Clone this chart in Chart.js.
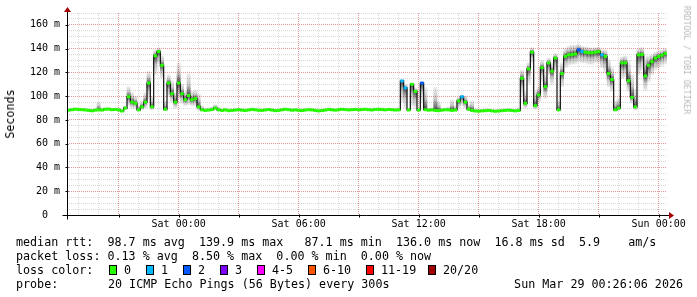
<!DOCTYPE html>
<html><head><meta charset="utf-8">
<script src="https://cdn.jsdelivr.net/npm/chart.js@4/dist/chart.umd.min.js"></script>
<style>
html,body{margin:0;padding:0;background:#fff;}
#wrap{position:relative;width:697px;height:297px;overflow:hidden;background:#fff;}
canvas{position:absolute;left:0;top:0;}
.t{position:absolute;font-family:"DejaVu Sans Mono",monospace;font-size:11.7px;line-height:14px;color:#000;white-space:pre;}
.box{position:absolute;width:8px;height:10px;box-sizing:border-box;border:1px solid #000;}
</style></head><body>
<div id="wrap">
<canvas id="c" width="697" height="297"></canvas>
</div>
<script>
// ---- data (5-minute RRD, shown here at 10-minute steps), minutes relative to Sat 00:00 ----
const startMin = -330;
const stepMin = 10;
const median = [
 88.2, 88.6, 89.0, 88.8, 88.6, 88.4, 88.0, 87.7, 88.2, 88.5,
 88.3, 89.0, 89.1, 88.6, 88.8, 88.4, 87.5, 90.0, 99.6, 95.0,
 94.0, 88.5, 91.0, 95.0, 111.0, 91.0, 134.0, 137.5, 126.0, 89.0,
 111.0, 102.0, 95.0, 111.0, 102.0, 97.0, 100.5, 97.0, 98.0, 91.0,
 88.5, 88.0, 88.3, 88.7, 90.0, 88.5, 88.0, 88.4, 87.8, 88.0,
 88.3, 88.6, 88.2, 87.9, 88.4, 88.8, 88.5, 88.1, 88.0, 88.4,
 88.7, 88.3, 87.8, 88.0, 88.5, 88.9, 88.6, 88.2, 88.4, 88.1,
 87.9, 88.3, 88.6, 88.4, 88.0, 87.6, 87.9, 88.3, 88.8, 88.5,
 88.2, 88.6, 88.9, 88.7, 88.4, 88.6, 88.8, 88.5, 88.7, 88.9,
 88.6, 88.4, 88.8, 88.9, 88.7, 88.5, 88.8, 88.6, 88.3, 88.5,
 112.8, 107.0, 88.4, 110.0, 104.0, 88.3, 111.0, 88.6, 88.2, 88.5,
 88.0, 87.8, 88.2, 88.6, 88.4, 88.0, 88.3, 96.0, 99.5, 95.0,
 89.0, 88.0, 87.5, 87.4, 87.6, 87.8, 88.0, 87.6, 87.3, 87.5,
 87.8, 88.0, 88.2, 87.9, 87.6, 88.0, 115.0, 94.0, 123.0, 137.0,
 92.0, 101.0, 124.0, 108.0, 128.0, 121.0, 132.0, 88.5, 119.0, 133.5,
 134.7, 135.0, 135.5, 139.0, 137.5, 137.0, 136.5, 136.5, 137.0, 137.5,
 134.7, 133.5, 119.0, 114.0, 88.5, 90.0, 128.0, 128.0, 113.0, 99.0,
 91.0, 134.7, 135.0, 117.0, 126.0, 129.0, 132.0, 133.5, 134.5, 136.0
];
const smokeHi = [
 89.5, 90, 90.5, 90, 90, 89.8, 89.5, 89, 89.5, 95,
 90, 90.5, 90.5, 90, 90.3, 90, 89, 92, 108, 103,
 100, 92, 96, 103, 121, 100, 139, 140.5, 134, 96,
 118, 113, 103, 128, 110, 104, 119, 104, 105, 102,
 92, 90, 90, 91, 93, 90.5, 89.5, 90, 89.5, 89.5,
 89.8, 90, 89.6, 89.3, 89.8, 90.3, 90, 89.5, 89.4, 89.8,
 90.2, 89.7, 89.2, 89.4, 90, 90.4, 90, 89.6, 89.8, 89.5,
 89.3, 89.7, 90, 89.8, 89.4, 89, 89.3, 89.7, 90.3, 90,
 89.6, 90, 90.4, 90.2, 89.8, 90, 90.3, 90, 90.2, 90.4,
 90, 89.8, 90.3, 90.4, 90.2, 90, 90.3, 90, 89.8, 90,
 114, 110, 90, 111, 107, 90, 112, 107, 90, 90,
 107.5, 95, 90, 90, 91, 97, 92, 99, 101, 100,
 93, 96, 89.5, 89, 89, 89.3, 89.5, 89, 88.8, 89,
 89.3, 89.5, 89.7, 89.4, 89, 90, 122, 104, 128, 141,
 104, 108, 130, 118, 132, 128, 136, 96, 128, 140,
 142, 143, 143, 143.5, 142, 141.5, 141, 140.5, 141, 141,
 139, 139, 131, 124, 96, 98, 133, 134, 130, 118,
 106, 140, 141, 133, 134, 135, 137, 138, 139, 140
];
const smokeLo = [
 87.5, 87.8, 88.2, 88, 87.8, 87.6, 87.2, 87, 87.4, 87.7,
 87.5, 88.2, 88.3, 87.8, 88, 87.6, 86.8, 88.5, 92, 90,
 90, 87.5, 88.5, 90, 98, 88.5, 118, 128, 115, 87.5,
 100, 95, 90, 98, 94, 92, 93, 92, 92, 88.5,
 87.8, 87.3, 87.5, 88, 88.5, 87.8, 87.3, 87.6, 87, 87.3,
 87.6, 87.9, 87.5, 87.2, 87.7, 88, 87.8, 87.4, 87.3, 87.7,
 88, 87.6, 87.1, 87.3, 87.8, 88.2, 87.9, 87.5, 87.7, 87.4,
 87.2, 87.6, 87.9, 87.7, 87.3, 86.9, 87.2, 87.6, 88.1, 87.8,
 87.5, 87.9, 88.2, 88, 87.7, 87.9, 88.1, 87.8, 88, 88.2,
 87.9, 87.7, 88.1, 88.2, 88, 87.8, 88.1, 87.9, 87.6, 87.8,
 95, 90, 87.7, 92, 90, 87.6, 95, 87.9, 87.5, 87.8,
 87.3, 87.1, 87.5, 87.9, 87.7, 87.3, 87.6, 90, 92, 90,
 87.5, 87.2, 86.8, 86.7, 86.9, 87.1, 87.3, 86.9, 86.6, 86.8,
 87.1, 87.3, 87.5, 87.2, 86.9, 87.3, 100, 90, 110, 128,
 89, 95, 112, 98, 118, 110, 122, 87.5, 108, 124,
 126, 127, 127, 129, 128, 128, 127, 127, 128, 128,
 124, 120, 108, 104, 87.5, 88, 115, 116, 104, 94,
 88.5, 118, 122, 105, 112, 118, 122, 124, 126, 127
];
const lossCount = [
 0,0,0,0,0,0,0,0,0,0, 0,0,0,0,0,0,0,0,0,0, 0,0,0,0,0,0,0,0,0,0,
 0,0,0,0,0,0,0,0,0,0, 0,0,0,0,0,0,0,0,0,0, 0,0,0,0,0,0,0,0,0,0,
 0,0,0,0,0,0,0,0,0,0, 0,0,0,0,0,0,0,0,0,0, 0,0,0,0,0,0,0,0,0,0,
 0,0,0,0,0,0,0,0,0,0, 1,1,0,0,0,0,2,0,0,0, 0,0,0,0,0,0,0,0,1,0,
 0,0,0,0,0,0,0,0,0,0, 0,0,0,0,0,0,0,0,0,0, 0,0,0,0,0,0,0,0,0,0,
 0,0,0,2,1,0,0,0,0,0, 1,0,0,0,0,0,0,0,0,0, 0,0,0,0,0,0,0,0,0,0
];
const xTickValues = [0, 360, 720, 1080, 1440];
const xTickLabels = ['Sat 00:00', 'Sat 06:00', 'Sat 12:00', 'Sat 18:00', 'Sun 00:00'];
const lossLabels = ['0', '1', '2', '3', '4-5', '6-10', '11-19', '20/20'];
const lossColors = ['#26ff00', '#00b8ff', '#0059ff', '#7e00ff', '#ff00ff', '#ff5500', '#ff0000', '#a10000'];
const statLines = [
 'median rtt:  98.7 ms avg  139.9 ms max   87.1 ms min  136.0 ms now  16.8 ms sd  5.9    am/s',
 'packet loss: 0.13 % avg  8.50 % max  0.00 % min  0.00 % now'
];
const probeText = '20 ICMP Echo Pings (56 Bytes) every 300s';
const dateText = 'Sun Mar 29 00:26:06 2026';

// ---- helpers ----
const times = median.map((_, i) => startMin + stepMin * i);
function lossColor(n){
  if (n <= 0) return lossColors[0];
  if (n === 1) return lossColors[1];
  if (n === 2) return lossColors[2];
  if (n === 3) return lossColors[3];
  if (n <= 5) return lossColors[4];
  if (n <= 10) return lossColors[5];
  if (n <= 19) return lossColors[6];
  return lossColors[7];
}
const MONO = "'DejaVu Sans Mono', monospace";
const MAJOR = 'rgba(225,110,110,0.7)';
const MINOR = 'rgba(185,185,185,0.55)';

// smoke shading: dark around the median, fading towards the extremes
function smokeFill(ctx){
  const chart = ctx.chart;
  const i = ctx.dataIndex;
  const y = chart.scales && chart.scales.y;
  if (!y || i === undefined || y.top === undefined) return 'rgba(0,0,0,0.25)';
  const pHi = y.getPixelForValue(smokeHi[i]);
  const pLo = y.getPixelForValue(smokeLo[i]);
  const pMed = y.getPixelForValue(median[i]);
  if (!isFinite(pHi) || !isFinite(pLo) || pLo - pHi < 1) return 'rgba(0,0,0,0.3)';
  const g = chart.ctx.createLinearGradient(0, pHi, 0, pLo);
  let f = (pMed - pHi) / (pLo - pHi);
  f = Math.min(0.98, Math.max(0.02, f));
  g.addColorStop(0, 'rgba(0,0,0,0.07)');
  g.addColorStop(f * 0.5, 'rgba(0,0,0,0.22)');
  g.addColorStop(f, 'rgba(0,0,0,0.7)');
  g.addColorStop(f + (1 - f) * 0.5, 'rgba(0,0,0,0.22)');
  g.addColorStop(1, 'rgba(0,0,0,0.07)');
  return g;
}

const rrdAxes = {
  id: 'rrdAxes',
  afterDatasetsDraw(chart){
    const {ctx, scales:{x, y}} = chart;
    const y0 = Math.round(y.getPixelForValue(0)) + 0.5;
    const x0 = Math.round(x.getPixelForValue(x.min)) + 0.5;
    const yTop = y.getPixelForValue(y.max);
    ctx.save();
    ctx.strokeStyle = '#000';
    ctx.lineWidth = 1;
    ctx.beginPath();
    ctx.moveTo(x0 - 5, y0); ctx.lineTo(x.right + 3, y0);
    ctx.moveTo(x0, y0 + 4); ctx.lineTo(x0, yTop - 1);
    for (let v = -180; v <= 1440; v += 180) {
      const px = Math.round(x.getPixelForValue(v)) + 0.5;
      ctx.moveTo(px, y0 - 1); ctx.lineTo(px, y0 + 2);
    }
    for (let v = 20; v <= 160; v += 20) {
      const py = Math.round(y.getPixelForValue(v)) + 0.5;
      ctx.moveTo(x0 - 2, py); ctx.lineTo(x0 + 1, py);
    }
    ctx.stroke();
    ctx.fillStyle = '#a00000';
    ctx.beginPath();
    ctx.moveTo(x.right + 2, y0 - 3.5); ctx.lineTo(x.right + 7, y0); ctx.lineTo(x.right + 2, y0 + 3.5); ctx.closePath();
    ctx.fill();
    ctx.beginPath();
    ctx.moveTo(x0 - 3.5, yTop - 1); ctx.lineTo(x0, yTop - 6); ctx.lineTo(x0 + 3.5, yTop - 1); ctx.closePath();
    ctx.fill();
    ctx.restore();
  }
};

new Chart(document.getElementById('c'), {
  type: 'line',
  data: {
    datasets: [
      {
        type: 'bar',
        data: times.map((t, i) => ({x: t, y: [smokeLo[i], smokeHi[i]]})),
        backgroundColor: smokeFill,
        borderWidth: 0,
        barPercentage: 1,
        categoryPercentage: 1,
        order: 3
      },
      {
        type: 'line',
        data: times.map((t, i) => ({x: t, y: median[i]})),
        borderColor: '#101010',
        borderWidth: 1.2,
        stepped: 'middle',
        pointRadius: 0,
        fill: false,
        order: 2
      },
      {
        type: 'line',
        data: times.map((t, i) => ({x: t, y: median[i]})),
        showLine: false,
        pointStyle: 'line',
        pointRadius: 1.75,
        pointBorderWidth: 3,
        pointBorderColor: lossCount.map(lossColor),
        pointBackgroundColor: lossCount.map(lossColor),
        order: 1
      }
    ]
  },
  options: {
    responsive: false,
    animation: false,
    devicePixelRatio: 1,
    events: [],
    layout: { padding: { left: 0, right: 30, top: 13, bottom: 0 } },
    plugins: { legend: { display: false }, tooltip: { enabled: false } },
    scales: {
      x: {
        type: 'linear',
        min: -335,
        max: 1465,
        offset: false,
        afterFit(s){ s.height = 82; },
        afterBuildTicks(s){
          const ticks = [];
          for (let v = -300; v <= 1440; v += 60) ticks.push({value: v});
          s.ticks = ticks;
        },
        ticks: {
          autoSkip: false,
          maxRotation: 0,
          padding: 3,
          color: '#000',
          font: { family: MONO, size: 10 },
          callback(v){ const k = xTickValues.indexOf(v); return k >= 0 ? xTickLabels[k] : ''; }
        },
        grid: {
          offset: false,
          drawTicks: false,
          lineWidth: 1,
          color(ctx){ const v = ctx.tick ? ctx.tick.value : 0; return (((v % 180) + 180) % 180 === 0) ? MAJOR : MINOR; }
        },
        border: { display: false, dash: [1, 1] }
      },
      y: {
        type: 'linear',
        min: 0,
        max: 170,
        afterFit(s){ s.width = 67; },
        ticks: {
          stepSize: 5,
          autoSkip: false,
          padding: 7,
          color: '#000',
          font: { family: MONO, size: 10 },
          callback(v){ return v % 20 === 0 ? (v === 0 ? '0  ' : v + ' m') : ''; }
        },
        grid: {
          drawTicks: false,
          lineWidth: 1,
          color(ctx){ const v = ctx.tick ? ctx.tick.value : 0; return (v % 20 === 0) ? MAJOR : MINOR; }
        },
        border: { display: false, dash: [1, 1] }
      }
    }
  },
  plugins: [rrdAxes]
});

// ---- text (real HTML text) ----
const wrap = document.getElementById('wrap');
function addText(txt, style){
  const d = document.createElement('div');
  d.className = 't';
  d.textContent = txt;
  Object.assign(d.style, style);
  wrap.appendChild(d);
  return d;
}
addText('Seconds', {left: '10px', top: '114px', transform: 'translate(-50%,-50%) rotate(-90deg)'});
addText('RRDTOOL / TOBI OETIKER', {left: '687px', top: '60px', fontSize: '8.2px', color: '#b8b8b8', transform: 'translate(-50%,-50%) rotate(90deg)'});
addText(statLines[0], {left: '16px', top: '235px'});
addText(statLines[1], {left: '16px', top: '249px'});
addText('loss color:', {left: '16px', top: '263px'});
const boxX = [109, 146, 183, 220, 257, 308, 366, 428];
lossLabels.forEach((lab, k) => {
  const b = document.createElement('div');
  b.className = 'box';
  b.style.left = boxX[k] + 'px';
  b.style.top = '265px';
  b.style.background = lossColors[k];
  wrap.appendChild(b);
  addText(lab, {left: (boxX[k] + 15) + 'px', top: '263px'});
});
addText('probe:', {left: '16px', top: '277px'});
addText(probeText, {left: '108px', top: '277px'});
addText(dateText, {right: '14px', top: '277px'});
</script>
</body></html>
